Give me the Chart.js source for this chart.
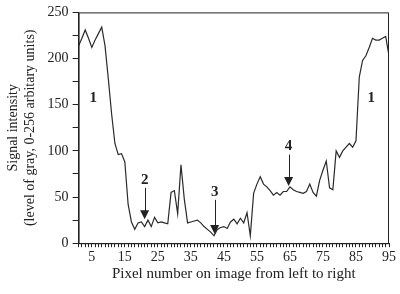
<!DOCTYPE html>
<html>
<head>
<meta charset="utf-8">
<script src="https://cdn.jsdelivr.net/npm/chart.js@4/dist/chart.umd.min.js"></script>
<style>
  html, body { margin: 0; padding: 0; background: #fff; }
  #wrap { width: 400px; height: 294px; }
</style>
</head>
<body>
<div id="wrap"><canvas id="chart"></canvas></div>
<script>
// pixel number (x) and gray level (y)
const pixelNumbers = [];
for (let i = 1; i <= 95; i++) pixelNumbers.push(i);
const signal = [
  214, 222, 231, 222, 212, 220, 227, 234, 214, 178,
  140, 108, 96, 97, 88, 42, 23, 15, 22, 23,
  18, 25, 18, 28, 22, 23, 22, 21, 55, 57,
  32, 85, 48, 22, 23, 24, 25, 22, 18, 15,
  12, 8, 15, 17, 18, 16, 23, 26, 21, 27,
  22, 33, 8, 54, 64, 72, 64, 61, 57, 52,
  55, 52, 56, 56, 61, 58, 56, 55, 54, 56,
  64, 55, 51, 68, 79, 89, 60, 58, 100, 93,
  100, 104, 108, 104, 111, 180, 198, 203, 212, 222,
  220, 220, 222, 224, 203
];
const xLabelValues = [5, 15, 25, 35, 45, 55, 65, 75, 85, 95];
const yLabelValues = [0, 50, 100, 150, 200, 250];

// numbered markers on the profile (text position, optional arrow)
const markerText = ['1', '1', '2', '3', '4'];
const markerX = [5.4, 89.6, 21.0, 42.2, 64.6];
const markerTextY = [157, 157, 68, 55.5, 105];
const arrowTopY = [null, null, 60, 47, 96];
const arrowTipY = [null, null, 26, 10, 62];

const ink = '#222';
const serif = "'Liberation Serif', 'DejaVu Serif', serif";

const markerPlugin = {
  id: 'markers',
  afterDatasetsDraw(chart) {
    const { ctx, chartArea, scales } = chart;
    ctx.save();
    // frame round the plot
    ctx.strokeStyle = ink;
    ctx.lineWidth = 1;
    ctx.strokeRect(chartArea.left + 0.5, chartArea.top + 0.5,
      chartArea.right - chartArea.left - 1, chartArea.bottom - chartArea.top);

    ctx.fillStyle = ink;
    ctx.textAlign = 'center';
    ctx.textBaseline = 'middle';
    ctx.font = 'bold 15px ' + serif;
    markerText.forEach((t, i) => {
      const px = scales.x.getPixelForValue(markerX[i]);
      ctx.fillText(t, px, scales.y.getPixelForValue(markerTextY[i]));
      if (arrowTopY[i] === null) return;
      const top = scales.y.getPixelForValue(arrowTopY[i]);
      const tip = scales.y.getPixelForValue(arrowTipY[i]);
      ctx.beginPath();
      ctx.moveTo(Math.round(px) + 0.5, top);
      ctx.lineTo(Math.round(px) + 0.5, tip - 8);
      ctx.stroke();
      ctx.beginPath();
      ctx.moveTo(px - 4.5, tip - 9);
      ctx.lineTo(px + 4.5, tip - 9);
      ctx.lineTo(px, tip);
      ctx.closePath();
      ctx.fill();
    });
    ctx.restore();
  }
};

new Chart(document.getElementById('chart'), {
  type: 'line',
  data: {
    labels: pixelNumbers,
    datasets: [{
      data: signal.map((v, i) => ({ x: pixelNumbers[i], y: v })),
      borderColor: '#2a2a2a',
      borderWidth: 1.2,
      pointRadius: 0,
      tension: 0,
      fill: false
    }]
  },
  options: {
    responsive: true,
    maintainAspectRatio: false,
    animation: false,
    layout: { padding: { top: -3, right: 11, left: 5, bottom: 11 } },
    plugins: { legend: { display: false }, tooltip: { enabled: false } },
    scales: {
      x: {
        type: 'linear',
        min: 1,
        max: 95,
        border: { color: ink, width: 1 },
        grid: { drawOnChartArea: false, tickLength: 4, color: ink },
        ticks: {
          stepSize: 1,
          autoSkip: false,
          maxRotation: 0,
          color: ink,
          font: { family: serif, size: 14 },
          padding: 2,
          callback: v => xLabelValues.includes(v) ? String(v) : ''
        },
        title: {
          display: true,
          text: 'Pixel number on image from left to right',
          color: ink,
          font: { family: serif, size: 15 },
          padding: { top: -3, bottom: 0 }
        }
      },
      y: {
        min: 0,
        max: 250,
        border: { color: ink, width: 1 },
        grid: { drawOnChartArea: false, tickLength: 6, color: ink },
        ticks: {
          stepSize: 25,
          autoSkip: false,
          color: ink,
          font: { family: serif, size: 14 },
          padding: 4,
          callback: v => yLabelValues.includes(v) ? String(v) : ''
        },
        title: {
          display: true,
          text: ['Signal intensity', '(level of gray, 0-256 arbitary units)'],
          color: ink,
          font: { family: serif, size: 14 },
          padding: { top: 0, bottom: 5 }
        }
      }
    }
  },
  plugins: [markerPlugin]
});
</script>
</body>
</html>
